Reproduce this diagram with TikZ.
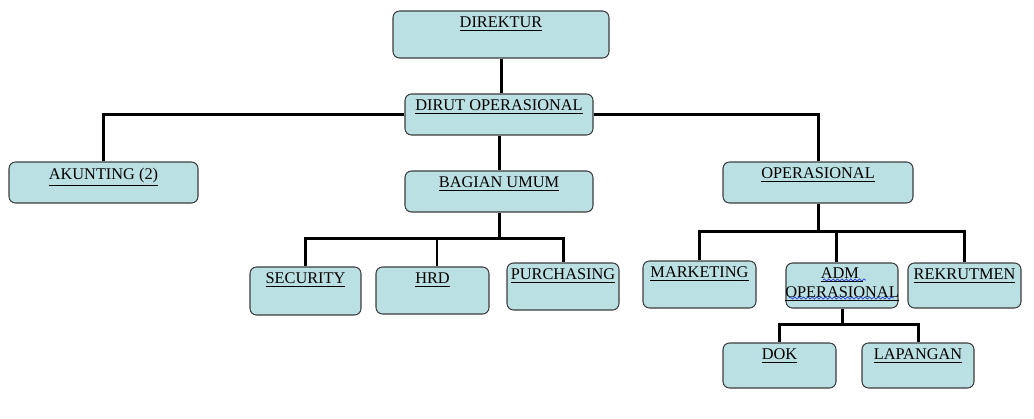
\documentclass[tikz,border=0pt]{standalone}
\usepackage{fontspec}
\setmainfont{Liberation Serif}
\usetikzlibrary{fit,calc,decorations.pathmorphing}
\definecolor{boxfill}{RGB}{186,224,227}
\definecolor{boxline}{RGB}{60,60,60}
\definecolor{spell}{RGB}{40,60,220}
\tikzset{
  box/.style={draw=boxline,line width=0.6pt,fill=boxfill,rounded corners=0.13cm,inner sep=0pt},
  lbl/.style={anchor=north,inner sep=0pt,align=center,font=\fontsize{9.3}{10.9}\selectfont},
  conn/.style={line width=1.7pt,black},
  wave/.style={spell,line width=0.4pt,decorate,decoration={snake,amplitude=0.6pt,segment length=2.5pt}}
}

\begin{document}
\begin{tikzpicture}[x=0.02cm,y=-0.02cm]
\useasboundingbox (0,0) rectangle (1034,419);

    % boxes: name / left / top / right / bottom / text
	\foreach \n/\xa/\ya/\xb/\yb/\t in {
	  direktur/393/11/609/58/DIREKTUR,
	  dirut/405/94/593/135/DIRUT OPERASIONAL,
	  akunting/9/162/198/203/AKUNTING (2),
	  bagian/405/171/593/212/BAGIAN UMUM,
	  oper/723/162/913/203/OPERASIONAL,
	  security/250/267/361/315/SECURITY,
	  hrd/376/267/489/314/HRD,
	  purch/507/263/619/310/PURCHASING,
	  marketing/643/261/756/308/MARKETING,
	  rekrut/908/263/1021/308/REKRUTMEN,
	  dok/723/343/836/388/DOK,
	  lapangan/862/343/974/388/LAPANGAN}
	{
	  \node[box,fit={(\xa,\ya) (\xb,\yb)}] (\n) {};
	  \node[lbl] (\n-t) at ([yshift=-0.12cm]\n.north) {\underline{\t}};
	}

\node[box,fit={(786,263) (898,308)}] (adm) {};
\node[lbl] (adm-t) at ([yshift=-0.1cm]adm.north) {\underline{ADM\ }\\\underline{OPERASIONAL}};
\draw[wave] (823,280) -- (866,280);
\draw[wave] (789,298) -- (894,298);

% lines
\draw[conn] (direktur.south) -- (direktur.south |- dirut.north);
\draw[conn] (dirut.south) -- (dirut.south |- bagian.north);
\draw[conn] (dirut.west) -| (akunting.north);
\draw[conn] (dirut.east) -| (oper.north);

\coordinate (bus1) at ($(bagian.south)+(0,26)$);
\draw[conn] (bagian.south) -- (bus1);
\draw[conn] (bus1) -| (security.north);
\draw[conn] (bus1) -| ([xshift=0.09cm]hrd.north);
\draw[conn] (bus1) -| (purch.north);

\coordinate (bus2) at ($(oper.south)+(0,28)$);
\draw[conn] (oper.south) -- (bus2);
\draw[conn] (bus2) -| (marketing.north);
\draw[conn] (bus2) -| ([xshift=-0.12cm]adm.north);
\draw[conn] (bus2) -| (rekrut.north);

\coordinate (bus3) at ($(adm.south)+(0,16)$);
\draw[conn] (adm.south) -- (bus3);
\draw[conn] (bus3) -| (dok.north);
\draw[conn] (bus3) -| (lapangan.north);

\end{tikzpicture}
\end{document}
